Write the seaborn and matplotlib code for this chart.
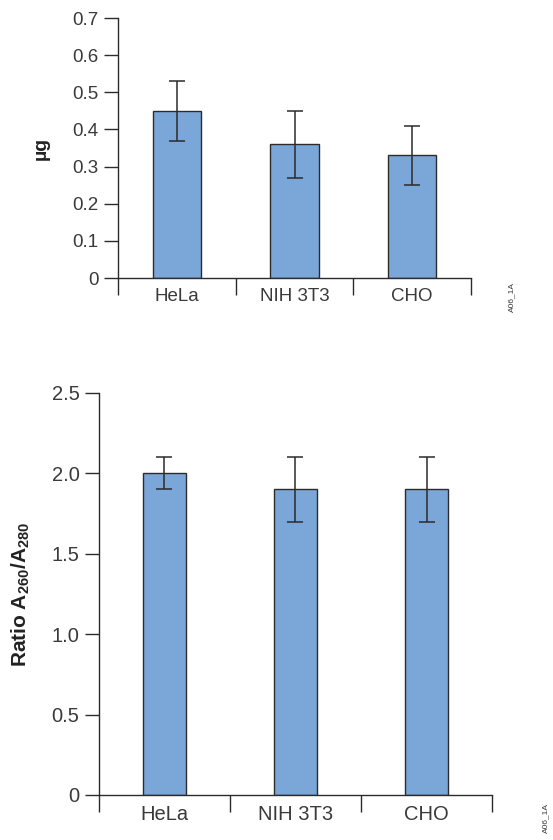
import numpy as np
import pandas as pd
import matplotlib.pyplot as plt
import seaborn as sns

cells = ["HeLa", "NIH 3T3", "CHO"]
yield_ug = [0.45, 0.36, 0.33]
yield_lo = [0.37, 0.27, 0.25]
yield_hi = [0.53, 0.45, 0.41]

ratio = [2.0, 1.9, 1.9]
ratio_lo = [1.9, 1.7, 1.7]
ratio_hi = [2.1, 2.1, 2.1]

top_ticks = [0, 0.1, 0.2, 0.3, 0.4, 0.5, 0.6, 0.7]
top_ticklabels = ["0", "0.1", "0.2", "0.3", "0.4", "0.5", "0.6", "0.7"]
bot_ticks = [0, 0.5, 1.0, 1.5, 2.0, 2.5]
bot_ticklabels = ["0", "0.5", "1.0", "1.5", "2.0", "2.5"]

bar_color = "#7BA6D8"
edge = "#2b2b2b"
text_col = "#3a3a3a"

sns.set_style("ticks")
plt.rcParams['font.family'] = ['Liberation Sans', 'DejaVu Sans']
plt.rcParams['mathtext.fontset'] = 'custom'
plt.rcParams['mathtext.rm'] = 'Liberation Sans'
plt.rcParams['mathtext.bf'] = 'Liberation Sans:bold'

fig = plt.figure(figsize=(5.53, 8.4), dpi=100)
ax1 = fig.add_axes([0.2134, 0.669, 0.6383, 0.3095])
ax2 = fig.add_axes([0.179, 0.0536, 0.7107, 0.4786])


def draw(ax, vals, lo, hi, width, ticks, ticklabels, ylim, fs):
    df = pd.DataFrame({"cell": cells, "val": vals})
    sns.barplot(data=df, x="cell", y="val", color=bar_color, width=width,
                edgecolor=edge, linewidth=1.0, saturation=1, ax=ax)
    vals = np.array(vals)
    yerr = [vals - np.array(lo), np.array(hi) - vals]
    ax.errorbar(np.arange(len(cells)), vals, yerr=yerr, fmt="none",
                ecolor=edge, elinewidth=1.1, capsize=5.5, capthick=1.1, zorder=5)
    ax.set_xlim(-0.5, 2.5)
    ax.set_ylim(*ylim)
    ax.set_yticks(ticks)
    ax.set_yticklabels(ticklabels, fontsize=fs, color=text_col)
    ax.set_xticks([0, 1, 2])
    ax.set_xticklabels(cells, fontsize=fs, color=text_col)
    ax.set_xticks([-0.5, 0.5, 1.5, 2.5], minor=True)
    ax.tick_params(axis="x", which="major", length=0, pad=7, bottom=True)
    ax.tick_params(axis="x", which="minor", length=12, width=1, color=edge,
                   direction="out", bottom=True)
    ax.tick_params(axis="y", which="minor", left=False)
    ax.tick_params(axis="y", which="major", length=10, width=1, color=edge,
                   direction="out", pad=4, left=True)
    for s in ["top", "right"]:
        ax.spines[s].set_visible(False)
    for s in ["left", "bottom"]:
        ax.spines[s].set_color(edge)
        ax.spines[s].set_linewidth(1)
    ax.set_xlabel("")


draw(ax1, yield_ug, yield_lo, yield_hi, 0.41, top_ticks, top_ticklabels, (0, 0.7), 13.5)
ax1.set_ylabel("µg", fontsize=14, fontweight="bold", color="#222222", labelpad=16)

draw(ax2, ratio, ratio_lo, ratio_hi, 0.33, bot_ticks, bot_ticklabels, (0, 2.5), 14.5)
ax2.set_ylabel("Ratio A$_{\\mathbf{260}}$/A$_{\\mathbf{280}}$", fontsize=15,
               fontweight="bold", color="#222222", labelpad=14)

fig.text(512 / 553, 1 - 297 / 840, "A06_1A", rotation=90, fontsize=6,
         color=text_col, ha="center", va="center")
fig.text(546 / 553, 1 - 818 / 840, "A06_1A", rotation=90, fontsize=6,
         color=text_col, ha="center", va="center")

fig.savefig("out.png", dpi=100)
